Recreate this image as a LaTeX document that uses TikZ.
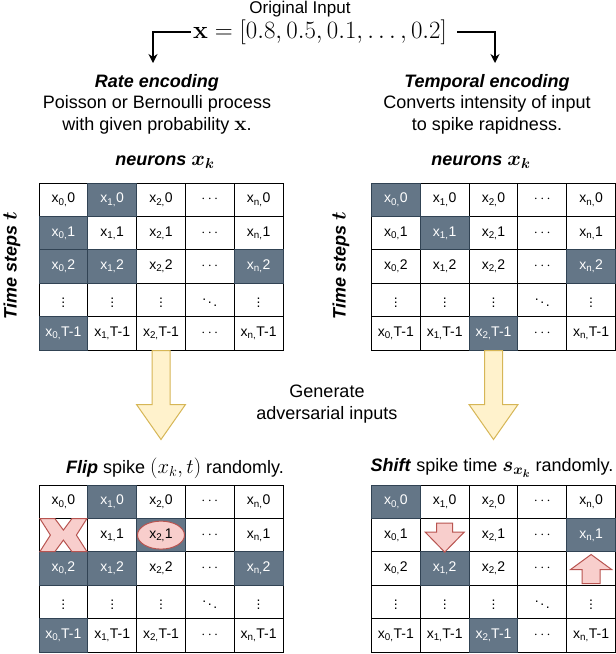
\documentclass[tikz,border=0pt]{standalone}
\usepackage[no-math]{fontspec}
\setmainfont{Liberation Sans}
\usetikzlibrary{arrows.meta,shapes.geometric}

\definecolor{spikefill}{HTML}{647687}
\definecolor{spikeline}{HTML}{314354}
\definecolor{advfill}{HTML}{F8CECC}
\definecolor{advline}{HTML}{B85450}
\definecolor{genfill}{HTML}{FFF2CC}
\definecolor{genline}{HTML}{D6B656}

\tikzset{
  cell/.style={draw=black, fill=white, line width=1pt, minimum width=48.8pt, minimum height=33.4pt, inner sep=0pt, font=\fontsize{14}{14}\selectfont},
  spike/.style={cell, fill=spikefill, draw=spikeline, text=white},
  blank/.style={fill=white, minimum width=44pt, minimum height=29pt, inner sep=0pt},
  adv/.style={draw=advline, fill=advfill, line width=1pt},
  gen/.style={draw=genline, fill=genfill, line width=1pt},
  label/.style={font=\fontsize{18}{21.5}\selectfont, align=center, inner sep=0pt},
  heading/.style={label, font=\fontsize{18}{21.5}\selectfont\bfseries\itshape},
  conn/.style={line width=1.2pt, -{Stealth[length=9pt,width=9pt]}},
}

% math set a little larger than the text, as in the figure
\newcommand{\mth}[1]{{\fontsize{21}{21}\selectfont$#1$}}
\newcommand{\bmth}[1]{{\fontsize{21}{21}\selectfont\boldmath$#1$}}

\newcommand{\celltext}{%
  \ifnum\r=3 \ifnum\c=3 $\ddots$\else $\vdots$\fi
  \else\ifnum\c=3 $\cdots$\else
    x\textsubscript{\ifnum\c=4 n\else\c\fi,}\ifnum\r=4 T-1\else\r\fi\fi\fi}

% left, top, name, spiking cells (row/col)
\newcommand{\spikegrid}[4]{%
  \foreach \r in {0,...,4}{
    \foreach \c in {0,...,4}{
      \node[cell] (#3\r\c) at ({#1+(\c+0.5)*48.8},{#2+(\r+0.5)*33.4}) {\celltext};
    }
  }
  \foreach \r/\c in {#4}{\node[spike] at (#3\r\c) {\celltext};}
}

\begin{document}
\begin{tikzpicture}[x=1pt,y=1pt,yscale=-1,xscale=1]
	\useasboundingbox (0,0) rectangle (616,654);

	% Text Node
	\node[label, font=\fontsize{17}{20}\selectfont] (orig) at (300,9) {Original Input};
	% Text Node
	\node[inner sep=0pt, font=\fontsize{23.5}{23.5}\selectfont] (input) at (320,32) {$\mathbf{x}=[0.8,0.5,0.1,\ldots,0.2]$};
	% Text Node
	\node[label] (rate) at (157,104) {\textbf{\textit{Rate encoding}}\\Poisson or Bernoulli process\\with given probability \mth{\mathbf{x}}.};
	% Text Node
	\node[label] (temp) at (487,104) {\textbf{\textit{Temporal encoding}}\\Converts intensity of input\\to spike rapidness.};

	%Connectors
	\coordinate (ratein) at (153,63);
	\coordinate (tempin) at (495,63);
	\draw[conn] ([xshift=-2pt]input.west) -| (ratein);
	\draw[conn] ([xshift=10pt]input.east) -| (tempin);

	% Text Node
	\node[heading] (rateneur) at (165,162) {neurons \bmth{x_k}};
	\node[heading] (tempneur) at (481,162) {neurons \bmth{x_k}};
	\node[heading, rotate=90] (ratetime) at (12,266) {Time steps \bmth{t}};
	\node[heading, rotate=90] (temptime) at (341,266) {Time steps \bmth{t}};

	%Shape: grids
	\spikegrid{39}{183}{ra}{0/1,1/0,2/0,2/1,2/4,4/0}
	\spikegrid{371.5}{183}{te}{0/0,1/1,2/4,4/2}
	\spikegrid{39}{485}{fl}{0/1,1/2,2/0,2/1,2/4,4/0}
	\spikegrid{371.5}{485}{sh}{0/0,1/4,2/1,4/2}
	\node[blank] at (fl10) {};
	\node[blank] at (sh11) {};
	\node[blank] at (sh24) {};

	%Shape: Down Arrows
	\draw[gen, shift={(ra42.south)}] (-9,0) -- (9,0) -- (9,54) -- (24.5,54) -- (0,89) -- (-24.5,54) -- (-9,54) -- cycle;
	\draw[gen, shift={(te42.south)}] (-9,0) -- (9,0) -- (9,54) -- (24.5,54) -- (0,89) -- (-24.5,54) -- (-9,54) -- cycle;

	% Text Node
	\node[label] (gen) at (327,404) {Generate\\adversarial inputs};
	% Text Node
	\node[label] (fliptxt) at (175,468) {\textbf{\textit{Flip}} spike \mth{(x_k,t)} randomly.};
	% Text Node
	\node[label] (shifttxt) at (492,468) {\textbf{\textit{Shift}} spike time \bmth{s_{x_k}} randomly.};

	%Shape: Cross
	\draw[adv, shift={(fl10)}] (-23.5,-16.5) -- (-8.5,-16.5) -- (0,-5) -- (8.5,-16.5) -- (23.5,-16.5) -- (13,0) -- (23.5,16.5) -- (8.5,16.5) -- (0,5) -- (-8.5,16.5) -- (-23.5,16.5) -- (-13,0) -- cycle;
	%Shape: Ellipse
	\node[adv, ellipse, minimum width=47pt, minimum height=28pt, inner sep=0pt, font=\fontsize{14}{14}\selectfont] (flipped) at (fl12) {x\textsubscript{2,}1};
	%Shape: Down Arrow
	\draw[adv, shift={(sh11)}] (-8,-12) -- (8,-12) -- (8,-3) -- (19.5,-3) -- (0,17) -- (-19.5,-3) -- (-8,-3) -- cycle;
	%Shape: Up Arrow
	\draw[adv, shift={(sh24)}] (-9,15) -- (9,15) -- (9,1) -- (20.5,1) -- (0,-14) -- (-20.5,1) -- (-9,1) -- cycle;

\end{tikzpicture}
\end{document}
